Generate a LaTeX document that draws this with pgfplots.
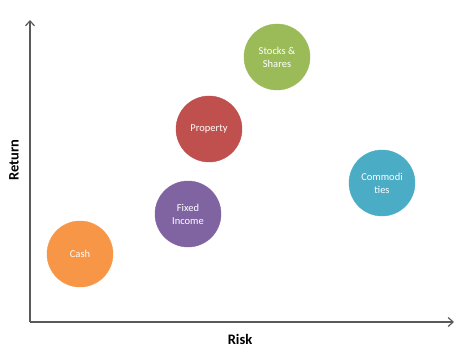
\documentclass[border=0pt]{standalone}
\usepackage{pgfplots}
\pgfplotsset{compat=1.18}
\usepackage{fontspec}
\setmainfont{Carlito}
\usetikzlibrary{arrows.meta}
\definecolor{cashc}{HTML}{F79646}
\definecolor{fixc}{HTML}{8064A2}
\definecolor{propc}{HTML}{C0504D}
\definecolor{stockc}{HTML}{9BBB59}
\definecolor{commc}{HTML}{4BACC6}
\begin{document}
\begin{tikzpicture}
\begin{axis}[
  scale only axis, width=424pt, height=302pt,
  xmin=0, xmax=424, ymin=0, ymax=302,
  axis lines=left,
  axis line style={line width=1.4pt, color=black!65, -{Straight Barb[length=5pt,width=9pt,line width=1.2pt]}},
  ticks=none, clip=false,
  every node near coord/.append style={anchor=center, align=center, text=white, font=\fontsize{10.5}{13}\selectfont},
  nodes near coords align={center},
]
\path (axis cs:-30,-29) rectangle (axis cs:432,322);
\node[font=\fontsize{14.5}{16}\selectfont\bfseries, rotate=90] at (axis cs:-16,162) {Return};
\node[font=\fontsize{14.5}{16}\selectfont\bfseries] at (axis cs:210,-17) {Risk};
\addplot[only marks, mark=*, mark size=33pt, mark options={fill=cashc, draw=cashc}, nodes near coords={Cash}] coordinates {(50,68)};
\addplot[only marks, mark=*, mark size=33pt, mark options={fill=fixc, draw=fixc}, nodes near coords={Fixed\\Income}] coordinates {(158,108)};
\addplot[only marks, mark=*, mark size=33pt, mark options={fill=propc, draw=propc}, nodes near coords={Property}] coordinates {(179,193)};
\addplot[only marks, mark=*, mark size=33pt, mark options={fill=stockc, draw=stockc}, nodes near coords={Stocks \&\\Shares}] coordinates {(247,265)};
\addplot[only marks, mark=*, mark size=33pt, mark options={fill=commc, draw=commc}, nodes near coords={Commodi\\ties}] coordinates {(352,139)};
\end{axis}
\end{tikzpicture}
\end{document}
